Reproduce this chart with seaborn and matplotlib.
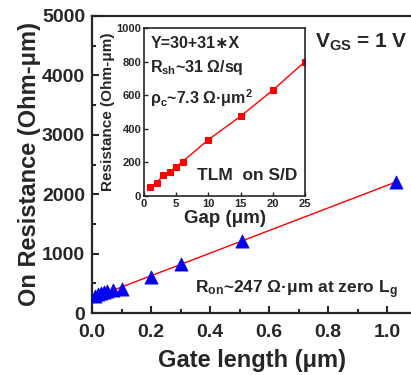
import numpy as np
import pandas as pd
import matplotlib
matplotlib.use("Agg")
import matplotlib.pyplot as plt
import seaborn as sns
from matplotlib.ticker import MultipleLocator

# main plot: on resistance vs gate length
gate_len = [0.01, 0.02, 0.03, 0.04, 0.05, 0.07, 0.10, 0.20, 0.30, 0.51, 1.03]
r_on = [290, 320, 340, 355, 370, 385, 405, 610, 825, 1210, 2205]
fit_x = [0.015, 1.03]
fit_y = [275, 2205]

# inset: TLM
gap = [1, 2, 3, 4, 5, 6, 10, 15, 20, 25]
r_tlm = [55, 80, 125, 145, 175, 205, 335, 475, 630, 800]

sns.set_style('ticks')
plt.rcParams['font.family'] = ['Liberation Sans', 'DejaVu Sans']
plt.rcParams['font.weight'] = 'bold'
plt.rcParams['mathtext.fontset'] = 'custom'
plt.rcParams['mathtext.rm'] = 'Liberation Sans:bold'
plt.rcParams['mathtext.it'] = 'Liberation Sans:bold'
plt.rcParams['mathtext.bf'] = 'Liberation Sans:bold'
plt.rcParams['mathtext.default'] = 'rm'

fig = plt.figure(figsize=(4.11, 3.75), dpi=100)
ax = fig.add_axes([92/411, 1-313/375, 1-92/411, 297/375])

df = pd.DataFrame({'L': gate_len, 'R': r_on})
sns.scatterplot(x='L', y='R', data=df, ax=ax, marker='^', s=90, color='#0000ee',
                edgecolor='#0000ee', linewidth=0.5, zorder=3)
ax.plot(fit_x, fit_y, color='red', linewidth=1, zorder=2)

ax.set_xlim(0, 319/295)
ax.set_ylim(0, 5000)
ax.xaxis.set_minor_locator(MultipleLocator(0.1))
ax.yaxis.set_major_locator(MultipleLocator(1000))
ax.yaxis.set_minor_locator(MultipleLocator(500))
ax.set_xticks([0, 0.2, 0.4, 0.6, 0.8, 1.0])
ax.set_xticklabels(['0.0', '0.2', '0.4', '0.6', '0.8', '1.0'])
ax.tick_params(which='both', direction='in', top=False, right=False, width=1.5, labelsize=14)
ax.tick_params(axis='x', pad=8)
ax.tick_params(axis='y', pad=5)
ax.tick_params(which='major', length=5)
ax.tick_params(which='minor', length=3)
for lab in ax.get_xticklabels() + ax.get_yticklabels():
    lab.set_fontweight('bold')
for s in ['left', 'bottom', 'top']:
    ax.spines[s].set_linewidth(1.6)
ax.spines['right'].set_visible(False)
ax.set_xlabel('Gate length (\u03bcm)', fontsize=17, fontweight='bold', labelpad=6)
ax.set_ylabel('On Resistance (Ohm-\u03bcm)', fontsize=17, fontweight='bold', labelpad=1)

ax.text(0.756, 4470, r'V$_{GS}$ = 1 V', fontsize=15, fontweight='bold')
ax.text(0.349, 337, 'R$_{on}$~247 \u03a9\u00b7\u03bcm at zero L$_{g}$',
        fontsize=12.5, fontweight='bold')

# inset
ins = fig.add_axes([144/411, 1-196/375, 161/411, 168/375])
dt = pd.DataFrame({'gap': gap, 'R': r_tlm})
sns.lineplot(x='gap', y='R', data=dt, ax=ins, color='red', linewidth=1,
             marker='s', markersize=4, markeredgecolor='red')
ins.set_xlim(0, 25)
ins.set_ylim(0, 1000)
ins.xaxis.set_major_locator(MultipleLocator(5))
ins.yaxis.set_major_locator(MultipleLocator(200))
ins.tick_params(which='both', direction='in', labelsize=8, width=1, length=3, pad=2)
for lab in ins.get_xticklabels() + ins.get_yticklabels():
    lab.set_fontweight('bold')
for s in ins.spines.values():
    s.set_linewidth(1.2)
ins.set_xlabel('Gap (\u03bcm)', fontsize=13.5, fontweight='bold', labelpad=1)
ins.set_ylabel('Resistance (Ohm-\u03bcm)', fontsize=11, fontweight='bold', labelpad=1)
ins.text(1.0, 880, 'Y=30+31\u2217X', fontsize=11.5, fontweight='bold')
ins.text(1.0, 738, 'R$_{sh}$~31 \u03a9/sq', fontsize=11.5, fontweight='bold')
ins.text(1.0, 548, '\u03c1$_{c}$~7.3 \u03a9\u00b7\u03bcm$^{2}$', fontsize=11.5, fontweight='bold')
ins.text(8.2, 95, 'TLM  on S/D', fontsize=12.5, fontweight='bold')

plt.savefig('out.png', dpi=100)
